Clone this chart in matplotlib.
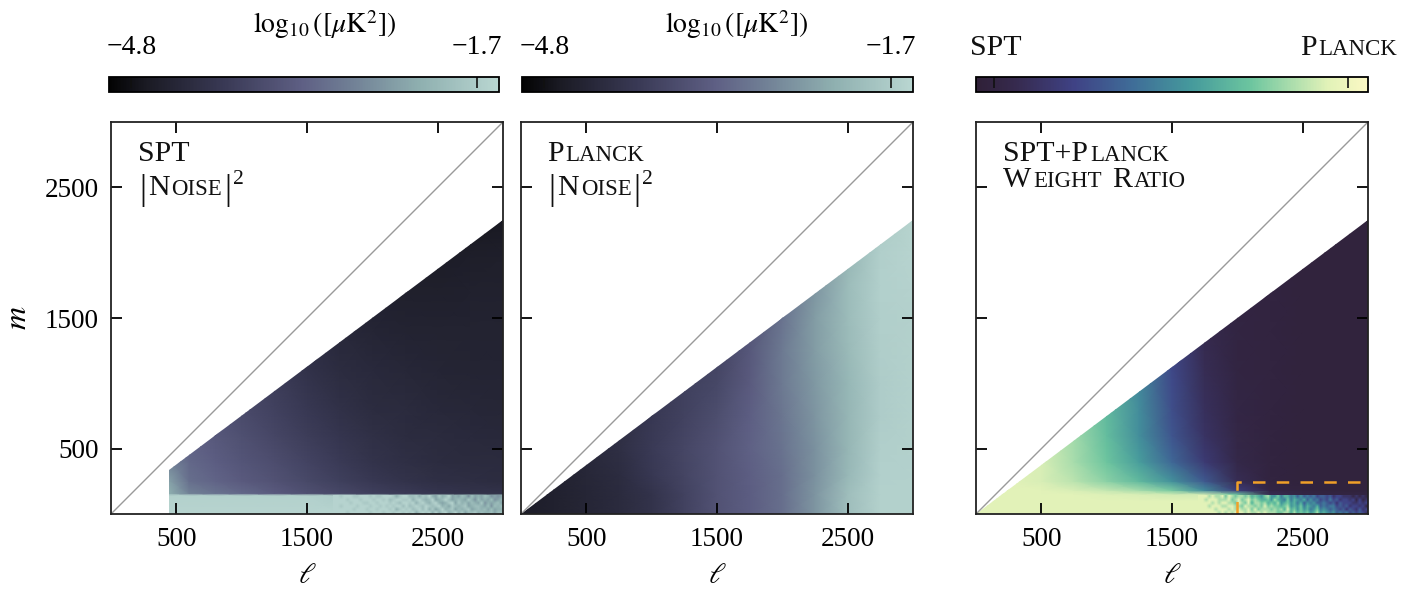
import numpy as np
import matplotlib
matplotlib.use("Agg")
import matplotlib.pyplot as plt
from matplotlib.colors import LinearSegmentedColormap, Normalize
from matplotlib.cm import ScalarMappable
from matplotlib.patches import Polygon

plt.rcParams['font.family'] = ['Liberation Serif', 'DejaVu Serif']
plt.rcParams['mathtext.fontset'] = 'stix'

W, H = 1425, 589

# panel 1, SPT noise, values are log10 power
spt_ell = [445, 600, 800, 1000, 1250, 1500, 1750, 2000, 2250, 2500, 2750, 3000]
spt_m = [0, 143, 158, 250, 400, 600, 800, 1100, 1400, 1700, 2000, 2250]
spt_noise = [
    [-1.55, -1.55, -1.55, -1.55, -1.55, -1.55, -1.55, -1.55, -1.55, -1.55, -1.55, -1.55],
    [-1.60, -1.60, -1.60, -1.60, -1.60, -1.60, -1.70, -1.80, -1.90, -2.00, -2.20, -2.30],
    [-2.20, -2.80, -3.00, -3.15, -3.35, -3.55, -3.70, -3.85, -3.95, -4.05, -4.10, -4.12],
    [-2.40, -3.05, -3.20, -3.35, -3.50, -3.68, -3.85, -4.00, -4.10, -4.18, -4.22, -4.25],
    [-2.80, -3.15, -3.30, -3.45, -3.60, -3.78, -3.95, -4.10, -4.18, -4.25, -4.28, -4.30],
    [-3.00, -3.25, -3.40, -3.55, -3.72, -3.90, -4.05, -4.17, -4.25, -4.30, -4.33, -4.35],
    [-3.10, -3.35, -3.50, -3.65, -3.82, -4.00, -4.15, -4.25, -4.30, -4.35, -4.38, -4.40],
    [-3.20, -3.45, -3.60, -3.75, -3.92, -4.12, -4.25, -4.32, -4.38, -4.42, -4.44, -4.44],
    [-3.30, -3.55, -3.70, -3.85, -4.02, -4.22, -4.35, -4.42, -4.46, -4.48, -4.48, -4.48],
    [-3.40, -3.65, -3.80, -3.95, -4.12, -4.32, -4.45, -4.50, -4.54, -4.54, -4.52, -4.52],
    [-3.50, -3.75, -3.90, -4.05, -4.22, -4.42, -4.52, -4.60, -4.64, -4.62, -4.58, -4.56],
    [-3.60, -3.85, -4.00, -4.15, -4.32, -4.50, -4.60, -4.68, -4.74, -4.72, -4.70, -4.68],
]

# panel 2, Planck noise
planck_ell = [0, 250, 500, 750, 1000, 1250, 1500, 1750, 2000, 2250, 2500, 2750, 3000]
planck_m = [0, 150, 300, 500, 750, 1000, 1250, 1500, 1750, 2000, 2250]
planck_noise = [
    [-4.60, -4.50, -4.40, -4.30, -4.10, -3.80, -3.50, -3.30, -3.05, -2.55, -1.95, -1.60, -1.60],
    [-4.60, -4.50, -4.40, -4.30, -4.10, -3.80, -3.50, -3.30, -3.05, -2.55, -1.95, -1.60, -1.60],
    [-4.60, -4.50, -4.38, -4.25, -4.00, -3.75, -3.50, -3.28, -3.05, -2.60, -2.05, -1.62, -1.60],
    [-4.60, -4.50, -4.35, -4.20, -3.95, -3.72, -3.50, -3.25, -3.00, -2.60, -2.10, -1.65, -1.60],
    [-4.60, -4.50, -4.35, -4.20, -4.00, -3.80, -3.58, -3.28, -2.95, -2.55, -2.10, -1.68, -1.60],
    [-4.60, -4.50, -4.35, -4.20, -4.05, -3.85, -3.70, -3.35, -2.90, -2.50, -2.08, -1.68, -1.60],
    [-4.60, -4.50, -4.35, -4.20, -4.05, -3.90, -3.78, -3.40, -2.90, -2.45, -2.02, -1.66, -1.60],
    [-4.60, -4.50, -4.35, -4.20, -4.05, -3.90, -3.78, -3.50, -3.00, -2.45, -1.98, -1.65, -1.60],
    [-4.60, -4.50, -4.35, -4.20, -4.05, -3.90, -3.78, -3.60, -3.10, -2.55, -1.98, -1.62, -1.58],
    [-4.60, -4.50, -4.35, -4.20, -4.05, -3.90, -3.78, -3.60, -3.20, -2.70, -2.10, -1.65, -1.55],
    [-4.60, -4.50, -4.35, -4.20, -4.05, -3.90, -3.78, -3.60, -3.20, -2.80, -2.20, -1.75, -1.55],
]

# panel 3, weight ratio, 0 is all SPT and 1 is all Planck
ratio_ell = planck_ell
ratio_m = [0, 100, 150, 180, 250, 400, 600, 800, 1100, 1400, 1700, 2000, 2250]
weight_ratio = [
    [0.90, 0.90, 0.90, 0.90, 0.90, 0.90, 0.90, 0.90, 0.88, 0.70, 0.40, 0.20, 0.12],
    [0.90, 0.90, 0.90, 0.90, 0.90, 0.90, 0.90, 0.90, 0.88, 0.60, 0.35, 0.20, 0.15],
    [0.90, 0.90, 0.90, 0.90, 0.89, 0.88, 0.87, 0.87, 0.70, 0.12, 0.06, 0.05, 0.05],
    [0.90, 0.90, 0.90, 0.88, 0.85, 0.80, 0.72, 0.50, 0.22, 0.06, 0.04, 0.03, 0.03],
    [0.90, 0.90, 0.88, 0.83, 0.75, 0.66, 0.52, 0.33, 0.12, 0.04, 0.03, 0.03, 0.03],
    [0.90, 0.90, 0.88, 0.80, 0.70, 0.56, 0.38, 0.20, 0.08, 0.04, 0.03, 0.03, 0.03],
    [0.90, 0.90, 0.88, 0.79, 0.67, 0.51, 0.32, 0.16, 0.07, 0.04, 0.03, 0.03, 0.03],
    [0.90, 0.90, 0.88, 0.78, 0.66, 0.50, 0.29, 0.14, 0.06, 0.04, 0.03, 0.03, 0.03],
    [0.90, 0.90, 0.88, 0.78, 0.64, 0.48, 0.27, 0.12, 0.05, 0.04, 0.03, 0.03, 0.03],
    [0.90, 0.90, 0.88, 0.78, 0.64, 0.48, 0.26, 0.10, 0.05, 0.04, 0.03, 0.03, 0.03],
    [0.90, 0.90, 0.88, 0.78, 0.64, 0.48, 0.26, 0.10, 0.05, 0.04, 0.03, 0.03, 0.03],
    [0.90, 0.90, 0.88, 0.78, 0.64, 0.48, 0.26, 0.10, 0.05, 0.04, 0.03, 0.03, 0.03],
    [0.90, 0.90, 0.88, 0.78, 0.64, 0.48, 0.26, 0.10, 0.05, 0.04, 0.03, 0.03, 0.03],
]

# speckle in the low m strip from ell 1700 to 3000, hand typed levels 0-9, top row first
spt_speckle = [
    "9989998899989889998689977868796586795657647565764545",
    "9999899989998998978998896897679567975676586475657456",
    "9999989998899899989879989689768965689586757658465675",
    "9989999899989989898997978987987896758767856776574767",
    "9999998999899899989689897897968579678576785676757566",
    "9999899999989998998998989689896968967968577867667577",
]
ratio_speckle = [
    "9998988979878878676578557466453534342332312211101010",
    "9989998889789789787667586547465463534232423122120201",
    "9999898998879879688786768567564635453343231322211212",
    "9998999889988798878797877678565746546343442323122120",
    "9999989998989889797888787869675756457454343231321312",
    "9999998989899989889898887788686767568565453434232321",
]

cbar_labels = ["\u22124.8", "\u22121.7"]
tick_vals = [500, 1500, 2500]
tick_text = ["500", "1500", "2500"]

noise_cmap = LinearSegmentedColormap.from_list("noise", [
    (0.0, "#030303"), (0.1, "#1b1b25"), (0.3, "#3a3a56"), (0.5, "#5f6085"),
    (0.62, "#707f95"), (0.8, "#8fb0b0"), (1.0, "#b9d6d1")])
ratio_cmap = LinearSegmentedColormap.from_list("ratio", [
    (0.0, "#2f2037"), (0.1, "#362a4e"), (0.25, "#3f4285"), (0.4, "#3f6d98"),
    (0.55, "#459a9c"), (0.7, "#6cc59f"), (0.9, "#e2f2b8"), (1.0, "#fbf8c4")])
noise_norm = Normalize(-5.0, -1.5)
ratio_norm = Normalize(0, 1)


def px_axes(fig, x0, y0, x1, y1):
    # pixel box measured from the top left of the picture
    return fig.add_axes([x0 / W, 1 - y1 / H, (x1 - x0) / W, (y1 - y0) / H])


def caps_text(fig, x, y, pieces):
    # pieces are (string, size, raise) laid out one after the other, y is the baseline
    renderer = fig.canvas.get_renderer()
    for s, size, lift in pieces:
        t = fig.text(x / W, 1 - (y - lift) / H, s, fontsize=size, color="#111111",
                     ha="left", va="baseline")
        x += t.get_window_extent(renderer).width + 2.0


def draw_panel(fig, box, ell, m, table, cmap, norm, wedge):
    ax = px_axes(fig, *box)
    mesh = ax.pcolormesh(ell, m, np.array(table), shading="gouraud", cmap=cmap, norm=norm)
    mesh.set_clip_path(Polygon(wedge, transform=ax.transData))
    ax.plot([0, 3000], [0, 3000], color="#9a9a9a", lw=1.0, zorder=3)
    ax.set_xlim(0, 3000)
    ax.set_ylim(0, 3000)
    ax.set_xticks(tick_vals)
    ax.set_xticklabels(tick_text)
    ax.set_yticks(tick_vals)
    ax.set_yticklabels(tick_text)
    ax.tick_params(direction="in", top=True, right=True, length=8, width=1.3,
                   labelsize=19.5, pad=9, zorder=5)
    for sp in ax.spines.values():
        sp.set_linewidth(1.3)
        sp.set_color("#222222")
        sp.set_zorder(6)
    ax.set_xlabel(r"$\ell$", fontsize=21, labelpad=8)
    return ax


def draw_speckle(ax, rows, low, high, cmap, norm):
    n = min(len(r) for r in rows)
    levels = np.array([[int(c) for c in r[:n]] for r in rows], dtype=float) / 9
    vals = low + (high - low) * levels
    ax.imshow(vals, extent=(1700, 3000, 0, 145), origin="upper", aspect="auto",
              interpolation="bilinear", cmap=cmap, norm=norm, zorder=2)
    ax.set_xlim(0, 3000)
    ax.set_ylim(0, 3000)


def draw_cbar(fig, box, cmap, norm, ticks, labels):
    cax = px_axes(fig, *box)
    cb = fig.colorbar(ScalarMappable(norm=norm, cmap=cmap), cax=cax, orientation="horizontal")
    cb.set_ticks(ticks)
    cb.minorticks_off()
    cax.xaxis.set_ticks_position("top")
    cax.tick_params(direction="in", length=8, width=1.2, pad=12, labelsize=20, color="#111111")
    cb.outline.set_linewidth(1.3)
    if labels is not None:
        cb.set_ticklabels(labels)
    else:
        cb.set_ticklabels(["", ""])
    return cax


fig = plt.figure(figsize=(W / 100, H / 100), dpi=100)
fig.canvas.draw()

ax1 = draw_panel(fig, (111, 122, 503, 514), spt_ell, spt_m, spt_noise, noise_cmap, noise_norm,
                 [(445, 0), (445, 334), (3000, 2250), (3000, 0)])
draw_speckle(ax1, spt_speckle, -3.4, -1.55, noise_cmap, noise_norm)
ax1.set_ylabel(r"$m$", fontsize=23, labelpad=8)

ax2 = draw_panel(fig, (521, 122, 913, 514), planck_ell, planck_m, planck_noise, noise_cmap, noise_norm,
                 [(0, 0), (3000, 2250), (3000, 0)])
ax2.tick_params(labelleft=False)

ax3 = draw_panel(fig, (976, 122, 1368, 514), ratio_ell, ratio_m, weight_ratio, ratio_cmap, ratio_norm,
                 [(0, 0), (3000, 2250), (3000, 0)])
ax3.tick_params(labelleft=False)
draw_speckle(ax3, ratio_speckle, 0.08, 0.9, ratio_cmap, ratio_norm)
ax3.plot([2000, 2000, 3000], [0, 248, 248], color="#f0a028", lw=1.8, ls=(0, (5, 4.5)), zorder=4)

draw_cbar(fig, (109, 77, 499, 92), noise_cmap, noise_norm, [-4.8, -1.7], cbar_labels)
draw_cbar(fig, (522, 77, 913, 92), noise_cmap, noise_norm, [-4.8, -1.7], cbar_labels)
draw_cbar(fig, (976, 77, 1368, 92), ratio_cmap, ratio_norm, [0.046, 0.95], None)

unit = r"$\log_{10}([\mu\mathrm{K}^2])$"
fig.text(325 / W, 1 - 25 / H, unit, fontsize=20, ha="center", va="center")
fig.text(737 / W, 1 - 25 / H, unit, fontsize=20, ha="center", va="center")

big, small = 21.5, 16.5
bar, sup = 25, 15.5
noise_pieces = [("|", bar, -4), ("N", big, 0), ("OISE", small, 0), ("|", bar, -4), ("2", sup, 11)]
caps_text(fig, 970, 55, [("SPT", big, 0)])
caps_text(fig, 1300, 55, [("P", big, 0), ("LANCK", small, 0)])

caps_text(fig, 138, 161, [("SPT", big, 0)])
caps_text(fig, 139, 195, noise_pieces)
caps_text(fig, 547, 161, [("P", big, 0), ("LANCK", small, 0)])
caps_text(fig, 548, 195, noise_pieces)
caps_text(fig, 1003, 161, [("SPT+P", big, 0), ("LANCK", small, 0)])
caps_text(fig, 1003, 187, [("W", big, 0), ("EIGHT", small, 0)])
caps_text(fig, 1112, 187, [("R", big, 0), ("ATIO", small, 0)])

fig.savefig("out.png", dpi=100)
